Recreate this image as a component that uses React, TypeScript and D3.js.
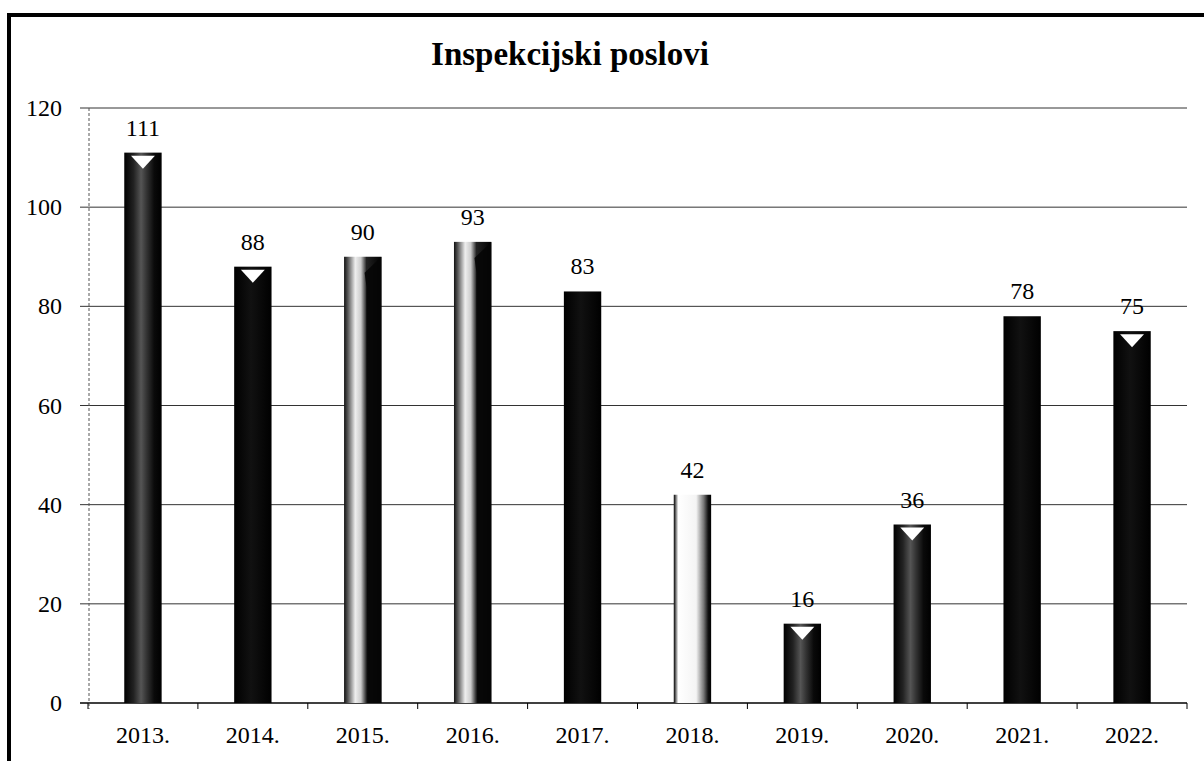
import React from "react";
import * as d3 from "d3";

const title = "Inspekcijski poslovi";
const years = ["2013.", "2014.", "2015.", "2016.", "2017.", "2018.", "2019.", "2020.", "2021.", "2022."];
const values = [111, 88, 90, 93, 83, 42, 16, 36, 78, 75];
const yTicks = [0, 20, 40, 60, 80, 100, 120];

// visual style per bar (appearance of the scanned cylinders)
const barLook = ["speckle", "black", "light", "light", "black", "pale", "speckle", "speckle", "black", "black"];
const topNotch = [true, true, false, false, false, false, true, true, false, true];

const W = 1204;
const H = 761;
const left = 88;
const right = 1187;
const top = 108;
const bottom = 703;
const FONT = "'Liberation Serif', 'Times New Roman', serif";

export default function App() {
  const x = d3.scaleBand<string>().domain(years).range([left, right]).paddingInner(0.66).paddingOuter(0.33);
  const y = d3.scaleLinear().domain([0, 120]).range([bottom, top]);
  const step = x.step();
  const bw = x.bandwidth();

  return (
    <svg
      width={W}
      height={H}
      style={{ position: "absolute", left: 0, top: 0, background: "#fff" }}
      xmlns="http://www.w3.org/2000/svg"
    >
      <defs>
        <linearGradient id="g-speckle" x1="0" x2="1" y1="0" y2="0">
          <stop offset="0%" stopColor="#000" />
          <stop offset="25%" stopColor="#222" />
          <stop offset="45%" stopColor="#555" />
          <stop offset="60%" stopColor="#333" />
          <stop offset="80%" stopColor="#0a0a0a" />
          <stop offset="100%" stopColor="#000" />
        </linearGradient>
        <linearGradient id="g-black" x1="0" x2="1" y1="0" y2="0">
          <stop offset="0%" stopColor="#000" />
          <stop offset="45%" stopColor="#111" />
          <stop offset="100%" stopColor="#000" />
        </linearGradient>
        <linearGradient id="g-light" x1="0" x2="1" y1="0" y2="0">
          <stop offset="0%" stopColor="#111" />
          <stop offset="10%" stopColor="#555" />
          <stop offset="30%" stopColor="#eee" />
          <stop offset="45%" stopColor="#ccc" />
          <stop offset="60%" stopColor="#222" />
          <stop offset="100%" stopColor="#000" />
        </linearGradient>
        <linearGradient id="g-pale" x1="0" x2="1" y1="0" y2="0">
          <stop offset="0%" stopColor="#000" />
          <stop offset="5%" stopColor="#666" />
          <stop offset="12%" stopColor="#fff" />
          <stop offset="60%" stopColor="#f4f4f4" />
          <stop offset="80%" stopColor="#777" />
          <stop offset="92%" stopColor="#111" />
          <stop offset="100%" stopColor="#000" />
        </linearGradient>
      </defs>

      {/* outer frame */}
      <rect x={9} y={15} width={1300} height={900} fill="none" stroke="#000" strokeWidth={4} />

      {/* title */}
      <text x={570} y={65} textAnchor="middle" fontFamily={FONT} fontWeight="bold" fontSize={33} fill="#000">
        {title}
      </text>

      {/* gridlines and y ticks */}
      {yTicks.map((t) => (
        <g key={t}>
          <line x1={left - 8} x2={right} y1={y(t)} y2={y(t)} stroke={t === 0 ? "#000" : "#333"} strokeWidth={t === 0 ? 1.5 : 1} />
          <text
            x={62}
            y={y(t)}
            textAnchor="end"
            dominantBaseline="central"
            fontFamily={FONT}
            fontSize={24}
            fill="#000"
          >
            {t}
          </text>
        </g>
      ))}

      {/* y axis line */}
      <line x1={left + 1} x2={left + 1} y1={top} y2={bottom + 6} stroke="#555" strokeWidth={1} strokeDasharray="3,2" />

      {/* x ticks at category boundaries */}
      {d3.range(years.length + 1).map((i) => (
        <line
          key={i}
          x1={left + i * step}
          x2={left + i * step}
          y1={bottom}
          y2={bottom + 6}
          stroke="#000"
          strokeWidth={1}
        />
      ))}

      {/* bars */}
      {years.map((yr, i) => {
        const x0 = x(yr)!;
        const yt = y(values[i]);
        const h = bottom - yt;
        const cx = x0 + bw / 2;
        return (
          <g key={yr}>
            <rect x={x0} y={yt} width={bw} height={h} fill={`url(#g-${barLook[i]})`} />
            {barLook[i] === "light" && (
              <path
                d={`M${x0 + bw * 0.55},${yt + 16} L${x0 + bw},${yt} L${x0 + bw},${bottom} L${x0 + bw * 0.62},${bottom} L${x0 + bw * 0.6},${yt + 30} Z`}
                fill="#050505"
                opacity={0.9}
              />
            )}
            {topNotch[i] && (
              <path
                d={`M${x0 + bw * 0.18},${yt + 3} L${x0 + bw * 0.82},${yt + 3} L${cx},${yt + Math.min(16, h * 0.6)} Z`}
                fill="#fff"
              />
            )}
            <text x={cx} y={yt - 17} textAnchor="middle" fontFamily={FONT} fontSize={24} fill="#000">
              {values[i]}
            </text>
            <text x={cx} y={743} textAnchor="middle" fontFamily={FONT} fontSize={24} fill="#000">
              {yr}
            </text>
          </g>
        );
      })}
    </svg>
  );
}
